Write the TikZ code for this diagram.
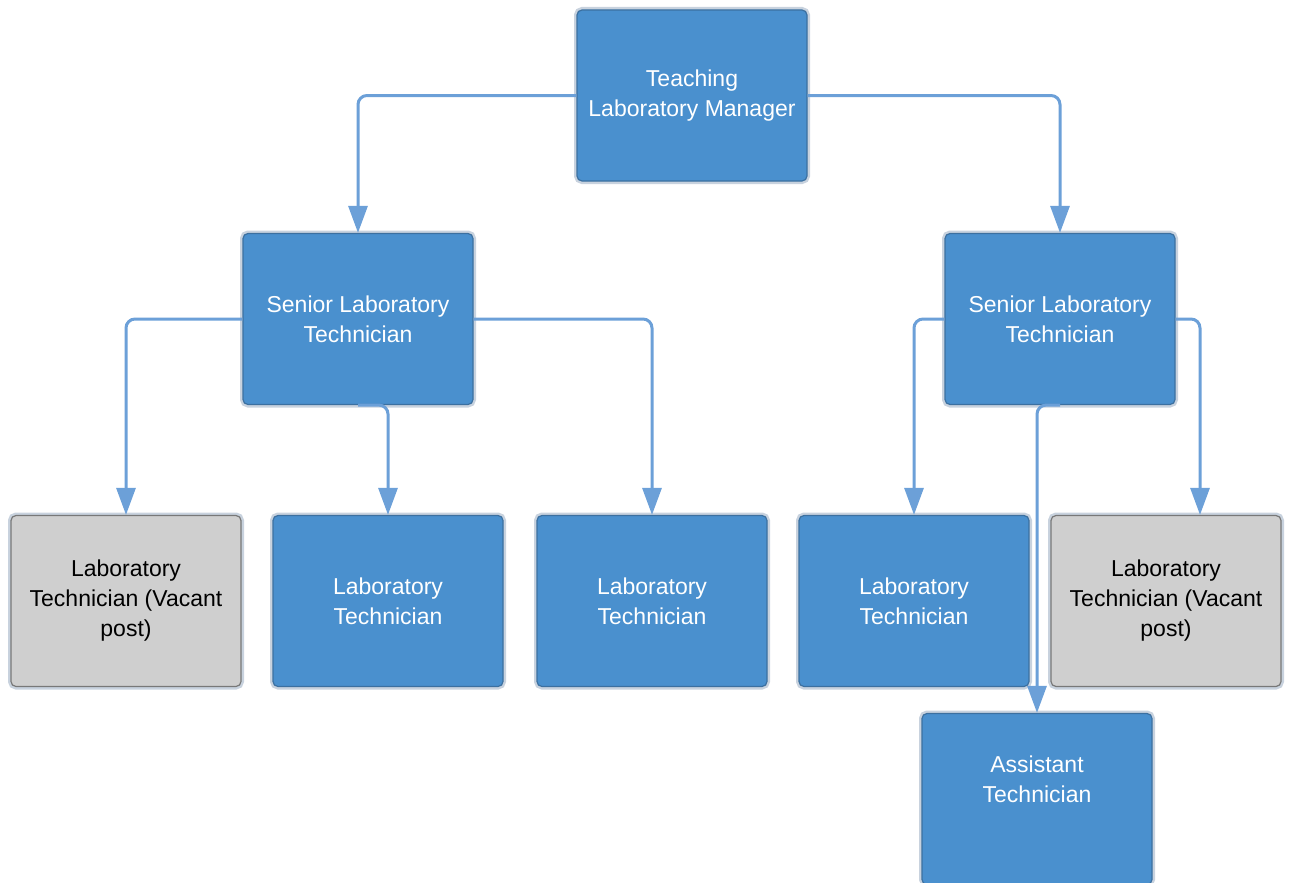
\documentclass[tikz,border=0pt]{standalone}
\usepackage{fontspec}
\setmainfont{Liberation Sans}
\usetikzlibrary{arrows.meta}
\definecolor{boxblue}{RGB}{74,144,206}
\definecolor{boxedge}{RGB}{60,112,160}
\definecolor{boxrim}{RGB}{200,210,222}
\definecolor{greyfill}{RGB}{207,207,207}
\definecolor{greyedge}{RGB}{120,120,120}
\definecolor{conncol}{RGB}{108,160,216}
\tikzset{
  orgbox/.style={rectangle, rounded corners=5pt, minimum width=230pt, minimum height=171pt,
    inner sep=0pt, align=center, font=\fontsize{23}{30}\selectfont,
    preaction={draw=boxrim, line width=6pt, rounded corners=6pt}},
  bluebox/.style={orgbox, fill=boxblue, draw=boxedge, line width=1.2pt, text=white},
  greybox/.style={orgbox, fill=greyfill, draw=greyedge, line width=1.2pt, text=black},
  conn/.style={draw=conncol, line width=3pt, rounded corners=9pt,
    -{Triangle[width=19pt,length=27pt]}}
}
\begin{document}
\begin{tikzpicture}[x=1pt,y=-1pt]
\useasboundingbox (0,0) rectangle (1290,883);
\node[bluebox] (tm) at (692,95.5) {Teaching\\Laboratory Manager};
\node[bluebox] (sl) at (358,319) {Senior Laboratory\\Technician};
\node[bluebox] (sr) at (1060,319) {Senior Laboratory\\Technician};
\node[greybox] (b1) at (126,601) {Laboratory\\Technician (Vacant\\post)};
\node[bluebox] (b2) at (388,601) {Laboratory\\Technician};
\node[bluebox] (b3) at (652,601) {Laboratory\\Technician};
\node[bluebox] (b4) at (914,601) {Laboratory\\Technician};
\node[greybox] (b5) at (1166,601) {Laboratory\\Technician (Vacant\\post)};
\node[bluebox] (at) at (1037,799) {Assistant\\Technician\\[9pt]\mbox{}};
\draw[conn] (tm.west) -| (sl.north);
\draw[conn] (tm.east) -| (sr.north);
\draw[conn] (sl.west) -| (b1.north);
\draw[conn] (sl.south) -| (b2.north);
\draw[conn] (sl.east) -| (b3.north);
\draw[conn] (sr.west) -| (b4.north);
\draw[conn] (sr.east) -| ([xshift=34pt]b5.north);
\draw[conn] (sr.south) -| (at.north);
\end{tikzpicture}
\end{document}
